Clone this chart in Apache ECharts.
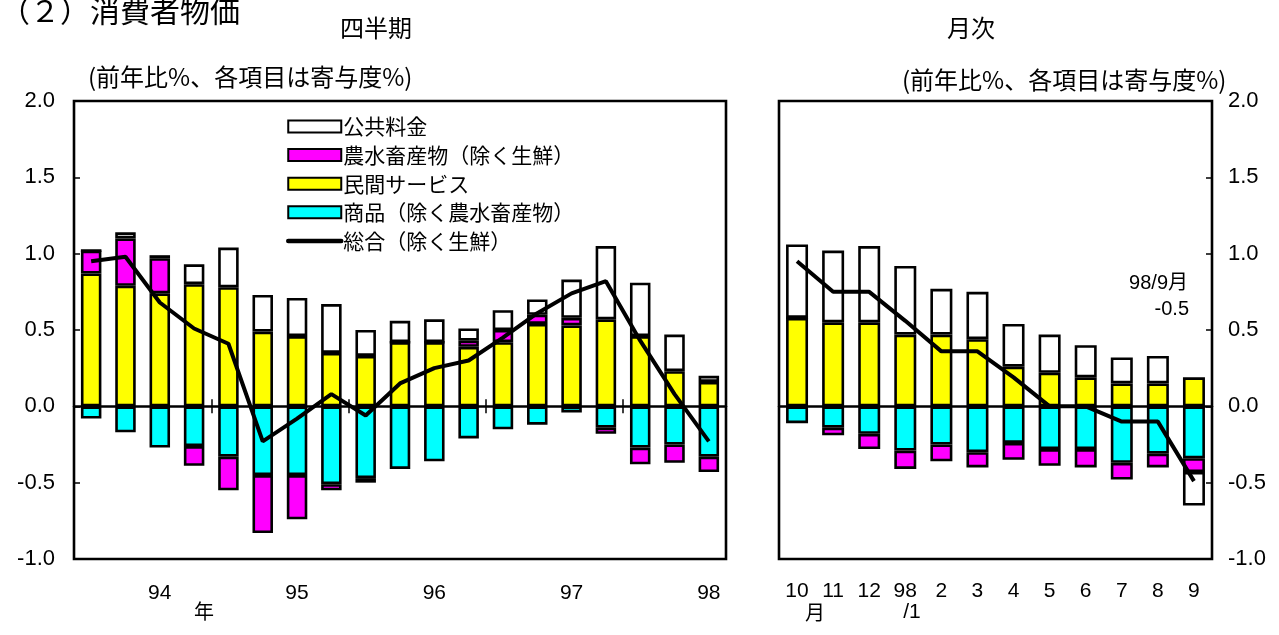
<!DOCTYPE html>
<html><head><meta charset="utf-8">
<script src="https://cdn.jsdelivr.net/npm/echarts@6/dist/echarts.min.js"></script>
<style>html,body{margin:0;padding:0;background:#fff}#c{width:1279px;height:635px}</style>
</head><body><div id="c"></div>
<script>
// ---- quarterly data (94Q1 - 98Q3) ----
const quarters = ['94Q1','94Q2','94Q3','94Q4','95Q1','95Q2','95Q3','95Q4','96Q1','96Q2','96Q3','96Q4','97Q1','97Q2','97Q3','97Q4','98Q1','98Q2','98Q3'];
const quarterTickLabels = ['', '', '94', '', '', '', '95', '', '', '', '96', '', '', '', '97', '', '', '', '98'];
const qPublic  = [0, 0.04, 0.02, 0.13, 0.26, 0.24, 0.25, 0.32, 0.17, 0.14, 0.15, 0.08, 0.13, 0.10, 0.25, 0.48, 0.35, 0.24, 0.04];
const qAgri    = [0.15, 0.31, 0.23, -0.13, -0.22, -0.38, -0.29, -0.04, -0.03, 0, 0, 0.04, 0.08, 0.06, 0.05, -0.04, -0.11, -0.12, -0.10];
const qService = [0.87, 0.79, 0.74, 0.80, 0.78, 0.49, 0.46, 0.35, 0.33, 0.42, 0.42, 0.39, 0.42, 0.54, 0.53, 0.57, 0.46, 0.23, 0.16];
const qGoods   = [-0.08, -0.17, -0.27, -0.26, -0.33, -0.45, -0.45, -0.51, -0.47, -0.41, -0.36, -0.21, -0.15, -0.12, -0.04, -0.14, -0.27, -0.25, -0.33];
const qTotal   = [0.95, 0.98, 0.68, 0.51, 0.41, -0.23, -0.08, 0.08, -0.06, 0.15, 0.25, 0.30, 0.45, 0.61, 0.74, 0.82, 0.43, 0.08, -0.23];

// ---- monthly data (97/10 - 98/9) ----
const months = ['97/10','97/11','97/12','98/1','98/2','98/3','98/4','98/5','98/6','98/7','98/8','98/9'];
const monthTickLabels = ['10','11','12','98','2','3','4','5','6','7','8','9'];
const mPublic  = [0.48, 0.47, 0.50, 0.45, 0.30, 0.31, 0.28, 0.25, 0.21, 0.17, 0.18, -0.22];
const mAgri    = [0, -0.05, -0.10, -0.12, -0.11, -0.10, -0.11, -0.11, -0.12, -0.11, -0.09, -0.09];
const mService = [0.58, 0.55, 0.55, 0.47, 0.47, 0.44, 0.26, 0.22, 0.19, 0.15, 0.15, 0.19];
const mGoods   = [-0.11, -0.14, -0.18, -0.29, -0.25, -0.30, -0.24, -0.28, -0.28, -0.37, -0.31, -0.34];
const mTotal   = [0.95, 0.75, 0.75, 0.56, 0.36, 0.36, 0.19, 0, 0, -0.10, -0.10, -0.49];

const seriesNames = ['公共料金', '農水畜産物（除く生鮮）', '民間サービス', '商品（除く農水畜産物）', '総合（除く生鮮）'];
const yTicks = {min: -1, max: 2, interval: 0.5};

const FONT = "'Liberation Sans','Noto Sans CJK JP',sans-serif";
const JFONT = "'Noto Sans CJK JP','Liberation Sans',sans-serif";
const chart = echarts.init(document.getElementById('c'));

function barSeries(name, data, color, xi, yi, stack, bw) {
  return {name, type: 'bar', data, stack, xAxisIndex: xi, yAxisIndex: yi, barWidth: bw,
    itemStyle: {color, borderColor: '#000', borderWidth: 2.6}, z: 2};
}
function lineSeries(data, xi, yi) {
  return {name: seriesNames[4], type: 'line', data, xAxisIndex: xi, yAxisIndex: yi, symbol: 'none',
    lineStyle: {color: '#000', width: 4}, itemStyle: {color: '#000'}, z: 6};
}
const boundaryTick = (i) => i > 0 && i % 4 === 0;
function yAxis(gi, pos, margin) {
  return {gridIndex: gi, type: 'value', position: pos, min: yTicks.min, max: yTicks.max, interval: yTicks.interval,
    axisLine: {show: false}, splitLine: {show: false},
    axisTick: {show: true, inside: true, length: 6, lineStyle: {color: '#000', width: 1.5}},
    axisLabel: {formatter: v => v.toFixed(1), fontSize: 22, color: '#000', fontFamily: FONT, margin}};
}

const option = {
  animation: false,
  backgroundColor: '#fff',
  grid: [
    {left: 74, top: 101, width: 652, height: 458, show: true, borderColor: '#000', borderWidth: 2.6, backgroundColor: 'transparent'},
    {left: 779, top: 101, width: 433, height: 458, show: true, borderColor: '#000', borderWidth: 2.6, backgroundColor: 'transparent'}
  ],
  legend: {
    orient: 'vertical', left: 286, top: 116, padding: 0, itemWidth: 53, itemHeight: 12, itemGap: 7.6,
    textStyle: {fontSize: 21, lineHeight: 21, color: '#000', fontFamily: JFONT, padding: [0, 0, 0, -3]},
    data: [
      {name: seriesNames[0], icon: 'rect'},
      {name: seriesNames[1], icon: 'rect'},
      {name: seriesNames[2], icon: 'rect'},
      {name: seriesNames[3], icon: 'rect'},
      {name: seriesNames[4], itemStyle: {color: 'rgba(0,0,0,0)', borderColor: 'rgba(0,0,0,0)'},
        lineStyle: {color: '#000', width: 4.5, cap: 'round'}}
    ]
  },
  xAxis: [
    {gridIndex: 0, type: 'category', data: quarters, position: 'bottom',
      axisLine: {show: false, onZero: false}, axisTick: {show: false},
      axisLabel: {interval: 0, formatter: (v, i) => quarterTickLabels[i], fontSize: 21, color: '#000', fontFamily: FONT, margin: 24}},
    {gridIndex: 0, type: 'category', data: quarters, position: 'bottom', z: 5,
      axisLine: {show: true, onZero: true, onZeroAxisIndex: 0, lineStyle: {color: '#000', width: 2.5}},
      axisTick: {show: true, interval: boundaryTick, length: 7, lineStyle: {color: '#000', width: 1.5}},
      axisLabel: {show: false}},
    {gridIndex: 0, type: 'category', data: quarters, position: 'bottom', z: 5,
      axisLine: {show: false, onZero: true, onZeroAxisIndex: 0},
      axisTick: {show: true, inside: true, interval: boundaryTick, length: 7, lineStyle: {color: '#000', width: 1.5}},
      axisLabel: {show: false}},
    {gridIndex: 1, type: 'category', data: months, position: 'bottom',
      axisLine: {show: false, onZero: false}, axisTick: {show: false},
      axisLabel: {interval: 0, formatter: (v, i) => monthTickLabels[i], fontSize: 21, color: '#000', fontFamily: FONT, margin: 22}},
    {gridIndex: 1, type: 'category', data: months, position: 'bottom', z: 5,
      axisLine: {show: true, onZero: true, onZeroAxisIndex: 1, lineStyle: {color: '#000', width: 2.5}},
      axisTick: {show: false}, axisLabel: {show: false}}
  ],
  yAxis: [yAxis(0, 'left', 19), yAxis(1, 'right', 16)],
  series: [
    barSeries(seriesNames[3], qGoods, '#00FFFF', 0, 0, 'q', 20.5),
    barSeries(seriesNames[2], qService, '#FFFF00', 0, 0, 'q', 20.5),
    barSeries(seriesNames[1], qAgri, '#FF00FF', 0, 0, 'q', 20.5),
    barSeries(seriesNames[0], qPublic, '#FFFFFF', 0, 0, 'q', 20.5),
    lineSeries(qTotal, 0, 0),
    barSeries(seriesNames[3], mGoods, '#00FFFF', 3, 1, 'm', 22),
    barSeries(seriesNames[2], mService, '#FFFF00', 3, 1, 'm', 22),
    barSeries(seriesNames[1], mAgri, '#FF00FF', 3, 1, 'm', 22),
    barSeries(seriesNames[0], mPublic, '#FFFFFF', 3, 1, 'm', 22),
    lineSeries(mTotal, 3, 1)
  ],
  graphic: [
    {type: 'text', x: 0, y: -4, style: {text: '（２）消費者物価', font: '30px ' + JFONT, fill: '#000'}},
    {type: 'text', x: 376, y: 28, style: {text: '四半期', font: '24px ' + JFONT, fill: '#000', align: 'center', verticalAlign: 'middle'}},
    {type: 'text', x: 971, y: 28, style: {text: '月次', font: '24px ' + JFONT, fill: '#000', align: 'center', verticalAlign: 'middle'}},
    {type: 'text', x: 88, y: 77, style: {text: '(前年比%、各項目は寄与度%)', font: '24px ' + JFONT, fill: '#000', verticalAlign: 'middle'}},
    {type: 'text', x: 902, y: 80, style: {text: '(前年比%、各項目は寄与度%)', font: '24px ' + JFONT, fill: '#000', verticalAlign: 'middle'}},
    {type: 'text', x: 204, y: 611, style: {text: '年', font: '20px ' + JFONT, fill: '#000', align: 'center', verticalAlign: 'middle'}},
    {type: 'text', x: 815, y: 612, style: {text: '月', font: '20px ' + JFONT, fill: '#000', align: 'center', verticalAlign: 'middle'}},
    {type: 'text', x: 912, y: 612, style: {text: '/1', font: '21px ' + FONT, fill: '#000', align: 'center', verticalAlign: 'middle'}},
    {type: 'text', x: 1188, y: 283, style: {text: '98/9月', font: '20px ' + FONT, fill: '#000', align: 'right', verticalAlign: 'middle'}},
    {type: 'text', x: 1189, y: 309, style: {text: '-0.5', font: '20px ' + FONT, fill: '#000', align: 'right', verticalAlign: 'middle'}}
  ]
};
chart.setOption(option);
</script>
</body></html>
